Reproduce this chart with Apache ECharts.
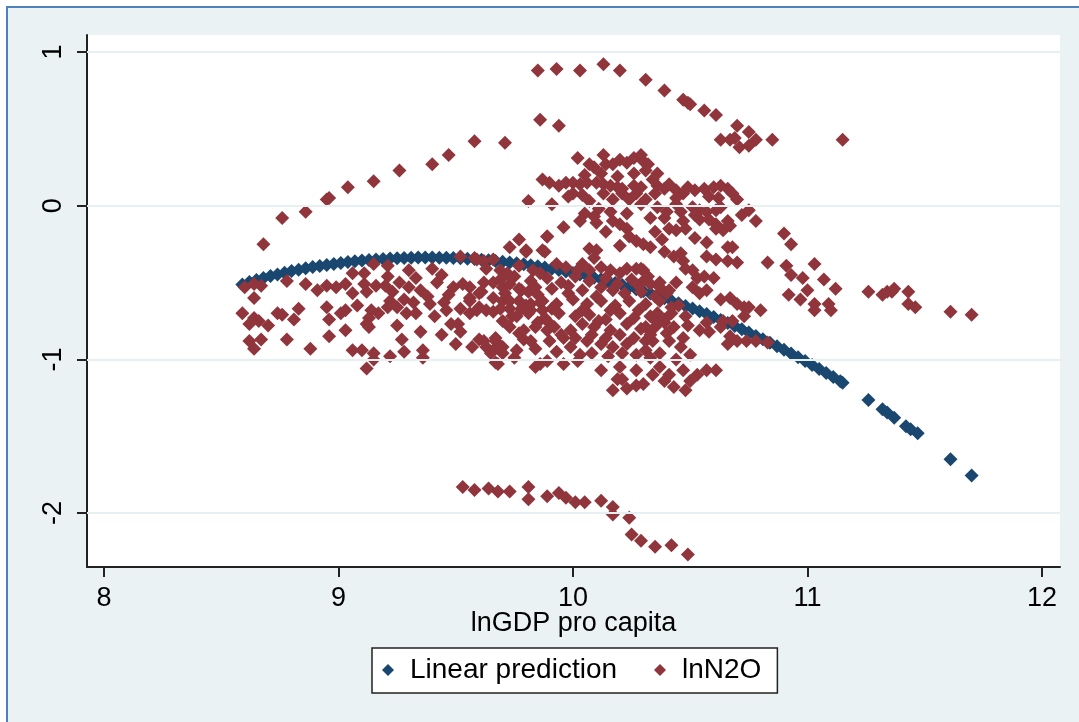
<!DOCTYPE html>
<html>
<head>
<meta charset="utf-8">
<script src="https://cdn.jsdelivr.net/npm/echarts@6/dist/echarts.min.js"></script>
<style>
  html, body { margin: 0; padding: 0; background: #ffffff; width: 1079px; height: 722px; overflow: hidden; }
  #frame { position: absolute; left: 6px; top: 6px; width: 1100px; height: 800px; background: #EAF2F3;
           border-left: 2px solid #4F81BD; border-top: 2px solid #4F81BD; }
  #chart { position: absolute; left: 0; top: 0; width: 1079px; height: 722px; }
</style>
</head>
<body>
<div id="frame"></div>
<div id="chart"></div>
<script>
// Axis tick values
const xTicks = [8, 9, 10, 11, 12];
const yTicks = [-2, -1, 0, 1];

// Fitted values (lnGDP, linear prediction of lnN2O)
const linearPrediction = [
  [8.59,-0.512],[8.62,-0.497],[8.65,-0.484],[8.68,-0.470],[8.71,-0.458],[8.74,-0.447],[8.77,-0.436],
  [8.80,-0.424],[8.83,-0.416],[8.86,-0.407],[8.89,-0.399],[8.92,-0.392],[8.95,-0.385],[8.98,-0.379],
  [9.01,-0.373],[9.04,-0.367],[9.07,-0.362],[9.10,-0.357],[9.13,-0.353],[9.16,-0.350],[9.19,-0.346],
  [9.22,-0.344],[9.25,-0.341],[9.28,-0.340],[9.31,-0.338],[9.34,-0.337],[9.37,-0.337],[9.40,-0.337],
  [9.43,-0.338],[9.46,-0.339],[9.49,-0.340],[9.52,-0.342],[9.55,-0.345],[9.58,-0.347],[9.61,-0.351],
  [9.64,-0.355],[9.67,-0.359],[9.70,-0.364],[9.73,-0.369],[9.76,-0.375],[9.79,-0.381],[9.82,-0.387],
  [9.85,-0.394],[9.88,-0.402],[9.91,-0.410],[9.94,-0.419],[9.97,-0.428],[10.00,-0.437],[10.03,-0.447],
  [10.06,-0.457],[10.09,-0.468],[10.12,-0.479],[10.15,-0.491],[10.18,-0.503],[10.21,-0.516],[10.24,-0.529],
  [10.27,-0.543],[10.30,-0.557],[10.33,-0.572],[10.36,-0.587],[10.39,-0.602],[10.42,-0.618],[10.45,-0.635],
  [10.48,-0.652],[10.51,-0.669],[10.54,-0.687],[10.57,-0.705],[10.60,-0.724],[10.63,-0.743],[10.66,-0.763],
  [10.69,-0.783],[10.72,-0.804],[10.75,-0.825],[10.78,-0.847],[10.81,-0.869],[10.84,-0.891],[10.87,-0.914],
  [10.90,-0.938],[10.93,-0.962],[10.96,-0.986],[10.99,-1.011],[11.02,-1.036],[11.05,-1.062],[11.08,-1.088],
  [11.11,-1.115],[11.14,-1.142],[11.15,-1.152],
  [11.26,-1.265],[11.32,-1.325],[11.34,-1.345],[11.37,-1.380],[11.42,-1.435],[11.44,-1.455],[11.47,-1.480],
  [11.61,-1.650],[11.70,-1.755]
];

// Observed lnN2O, grouped by area of the scatter
const upperArc = [
  [9.85,0.88],[9.93,0.89],[10.03,0.88],[10.13,0.92],[10.20,0.88],[10.31,0.82],[10.39,0.75],[10.47,0.69],
  [10.49,0.67],[10.50,0.66],[10.56,0.62],[10.61,0.59],[10.70,0.52],[10.63,0.43],[10.67,0.43],[10.69,0.44],
  [10.71,0.38],[10.75,0.48],[10.75,0.39],[10.78,0.43],[10.85,0.43],[11.15,0.43],[9.86,0.56],[9.94,0.52],
  [9.71,0.41]
];
const leftArc = [
  [8.68,-0.25],[8.76,-0.08],[8.86,-0.04],[8.95,0.04],[8.96,0.05],[9.04,0.12],[9.15,0.16],[9.26,0.23],
  [9.40,0.27],[9.47,0.33],[9.58,0.42]
];
const lowerGroup = [
  [9.53,-1.83],[9.58,-1.85],[9.64,-1.84],[9.68,-1.86],[9.73,-1.86],[9.81,-1.83],[9.81,-1.91],[9.89,-1.89],
  [9.94,-1.87],[9.97,-1.90],[10.01,-1.93],[10.05,-1.93],[10.12,-1.92],[10.17,-1.96],[10.17,-2.01],[10.24,-2.03],
  [10.25,-2.14],[10.29,-2.18],[10.35,-2.22],[10.42,-2.21],[10.49,-2.27]
];
const eastTail = [
  [10.90,-0.18],[10.93,-0.25],[10.91,-0.39],[10.93,-0.45],[11.03,-0.38],[10.98,-0.47],[11.07,-0.48],[11.00,-0.55],
  [11.12,-0.54],[10.92,-0.58],[10.97,-0.61],[11.03,-0.64],[11.03,-0.68],[11.09,-0.64],[11.10,-0.68],[11.26,-0.56],
  [11.32,-0.58],[11.34,-0.56],[11.36,-0.56],[11.37,-0.54],[11.43,-0.56],[11.43,-0.64],[11.46,-0.66],[11.61,-0.69],
  [11.70,-0.71],[10.83,-0.37],[10.78,-0.10],[10.75,-0.03]
];
const westCloud = [
  [8.60,-0.53],[8.64,-0.51],[8.67,-0.52],[8.64,-0.60],[8.78,-0.49],[8.86,-0.51],[8.91,-0.55],[8.95,-0.52],
  [8.99,-0.53],[9.03,-0.51],[9.06,-0.44],[9.11,-0.44],[9.15,-0.38],[9.21,-0.39],[9.21,-0.46],[9.30,-0.42],
  [9.40,-0.41],[9.11,-0.51],[9.12,-0.56],[9.16,-0.52],[9.23,-0.56],[9.22,-0.62],[9.21,-0.66],[9.17,-0.70],
  [9.14,-0.68],[9.13,-0.73],[9.26,-0.50],[9.30,-0.53],[9.28,-0.61],[9.25,-0.66],[9.29,-0.70],[9.33,-0.70],
  [9.35,-0.55],[9.38,-0.59],[9.39,-0.64],[9.42,-0.50],[9.45,-0.63],[9.46,-0.68],[9.49,-0.53],[9.53,-0.51],
  [9.56,-0.53],[9.60,-0.57],[9.52,-0.33],[9.58,-0.34],[9.52,-0.67],[9.56,-0.70],[9.60,-0.66],[9.56,-0.60],
  [9.48,-0.77],[9.51,-0.77],[9.52,-0.82],[9.50,-0.90],[9.57,-0.92],[8.59,-0.70],[8.64,-0.73],[8.62,-0.77],
  [8.66,-0.75],[8.70,-0.78],[8.74,-0.70],[8.76,-0.71],[8.83,-0.67],[8.81,-0.74],[8.95,-0.66],[9.01,-0.70],
  [9.03,-0.68],[8.96,-0.74],[9.03,-0.81],[9.12,-0.77],[9.13,-0.79],[9.25,-0.78],[9.35,-0.82],[8.62,-0.88],
  [8.64,-0.93],[8.67,-0.87],[8.78,-0.87],[8.88,-0.93],[8.96,-0.85],[9.06,-0.94],[9.10,-0.94],[9.15,-0.96],
  [9.15,-1.00],[9.12,-1.06],[9.22,-0.98],[9.28,-0.95],[9.36,-0.94],[9.36,-0.99],
  [9.33,-0.47],[9.44,-0.45],[9.47,-0.58],[9.41,-0.72],[9.20,-0.52],[9.06,-0.57],[9.08,-0.65],[9.27,-0.87],
  [9.44,-0.84],[9.32,-0.63]
];
const centralCloud = [
  [9.73,-0.27],[9.77,-0.22],[9.80,-0.30],[9.88,-0.30],[9.89,-0.20],[9.59,-0.35],[9.62,-0.36],[9.66,-0.35],
  [9.63,-0.41],[9.69,-0.42],[9.72,-0.44],[9.77,-0.39],[9.83,-0.42],[9.86,-0.44],[9.66,-0.50],[9.70,-0.53],
  [9.73,-0.51],[9.77,-0.54],[9.81,-0.56],[9.84,-0.53],[9.61,-0.56],[9.66,-0.60],[9.70,-0.62],[9.77,-0.62],
  [9.82,-0.64],[9.86,-0.63],[9.56,-0.62],[9.59,-0.68],[9.63,-0.68],[9.66,-0.69],[9.69,-0.67],[9.73,-0.67],
  [9.76,-0.72],[9.82,-0.68],[9.87,-0.68],[9.73,-0.79],[9.77,-0.83],[9.79,-0.87],[9.84,-0.79],[9.89,-0.81],
  [9.60,-0.87],[9.63,-0.92],[9.67,-0.88],[9.70,-0.92],[9.66,-0.94],[9.70,-0.96],[9.67,-1.02],[9.75,-0.99],
  [9.86,-1.03]
];
const upperCloud = [
  [10.02,0.31],[10.07,0.27],[10.09,0.25],[10.13,0.33],[10.14,0.27],[10.17,0.27],[10.20,0.30],[10.23,0.28],
  [10.26,0.31],[10.29,0.33],[10.30,0.29],[10.32,0.27],[9.87,0.17],[9.90,0.15],[9.94,0.13],[9.97,0.15],
  [10.00,0.15],[10.03,0.14],[10.06,0.15],[10.10,0.15],[10.13,0.14],[10.16,0.13],[10.19,0.12],[10.21,0.11],
  [10.26,0.13],[10.29,0.12],[10.00,0.08],[10.04,0.07],[10.07,0.03],[10.13,0.08],[10.17,0.04],[10.21,0.08],
  [10.24,0.04],[10.27,0.08],[10.29,0.01],[10.31,0.04],[9.81,0.03],[9.91,0.01],[10.11,-0.02],[10.09,-0.07],
  [10.10,-0.11],[10.03,-0.10],[9.96,-0.14],[10.17,-0.10],[10.20,-0.12],[10.23,-0.15],[10.24,-0.20],[10.27,-0.23],
  [10.30,-0.25],[9.89,-0.20],[9.80,-0.29],[9.87,-0.29],[10.07,-0.28],[10.10,-0.29],[10.09,-0.34],
  [10.31,0.23],[10.36,0.21],[10.36,0.13],[10.39,0.11],[10.44,0.10],[10.47,0.08],[10.52,0.10],[10.56,0.11],
  [10.60,0.12],[10.63,0.13],[10.66,0.11],[10.70,0.04],[10.44,0.01],[10.51,-0.01],[10.54,-0.03],[10.57,-0.04],
  [10.61,-0.03],[10.63,-0.01],[10.66,-0.10],[10.61,-0.12],[10.58,-0.09],[10.54,-0.09],[10.36,-0.01],[10.33,-0.08],
  [10.39,-0.08],[10.47,-0.10],[10.41,-0.15],[10.44,-0.16],[10.35,-0.17],[10.48,-0.15],[10.61,-0.15],[10.64,-0.16],
  [10.67,-0.13],[10.68,-0.27],[10.66,-0.27],[10.33,-0.27],[10.39,-0.30],[10.43,-0.33],[10.46,-0.31],[10.47,-0.36],
  [10.57,-0.33],[10.61,-0.35],[10.66,-0.36],[10.70,-0.37],
  [10.05,0.20],[10.12,0.21],[10.19,0.19],[10.26,0.21],[10.34,0.17],[10.41,0.14],[10.49,0.12],[10.58,0.06],
  [10.62,0.05],[10.68,0.08],[10.72,-0.06],[10.52,-0.06],[10.40,-0.04],[10.46,-0.04],[10.23,-0.05],[10.16,-0.04],
  [10.05,-0.05],[9.98,0.06],[10.35,0.08],[10.44,0.05],[10.52,-0.21],[10.57,-0.24],[10.38,-0.22],[10.20,-0.26],
  [10.14,-0.17]
];
const coreCloud = [
  [9.93,-0.38],[9.97,-0.40],[10.02,-0.42],[10.04,-0.38],[10.07,-0.42],[10.12,-0.40],[10.16,-0.42],[10.20,-0.44],
  [10.23,-0.41],[10.27,-0.41],[10.30,-0.42],[9.79,-0.81],[9.82,-0.88],[9.89,-0.75],[9.90,-0.88],[9.96,-0.86],
  [9.99,-0.92],[10.03,-0.97],[10.06,-0.88],[10.12,-0.90],[10.17,-0.92],[10.23,-0.90],[10.27,-0.97],[10.31,-0.88],
  [9.62,-0.88],[9.67,-0.86],[9.65,-0.96],[9.68,-1.03],[9.84,-1.05],[9.89,-1.01],[9.96,-1.03],[10.02,-1.01],
  [10.12,-1.07],[10.20,-1.05],[10.27,-1.07],[10.19,-1.13],[10.21,-1.13],[10.17,-1.20],[10.23,-1.19],[10.27,-1.17],
  [10.30,-1.16],[10.48,-0.41],[10.51,-0.42],[10.53,-0.47],[10.56,-0.46],[10.60,-0.47],[10.29,-0.41],[10.30,-0.49],
  [10.33,-0.51],[10.37,-0.53],[10.40,-0.57],[10.51,-0.53],[10.54,-0.57],[10.57,-0.55],[10.63,-0.61],[10.67,-0.60],
  [10.70,-0.64],[10.73,-0.66],[10.75,-0.66],[10.80,-0.68],[10.73,-0.72],[10.68,-0.75],[10.64,-0.75],[10.54,-0.81],
  [10.58,-0.82],[10.63,-0.79],[10.67,-0.85],[10.66,-0.90],[10.70,-0.88],[10.74,-0.88],[10.78,-0.88],[10.83,-0.89],
  [10.36,-0.70],[10.39,-0.76],[10.31,-0.79],[10.43,-0.79],[10.47,-0.86],[10.41,-0.88],[10.34,-0.88],[10.31,-0.94],
  [10.37,-0.96],[10.46,-0.92],[10.50,-0.97],[10.37,-1.05],[10.41,-1.10],[10.47,-1.07],[10.50,-1.14],[10.53,-1.10],
  [10.57,-1.07],[10.61,-1.07],[10.43,-1.18],[10.39,-1.14],[10.34,-1.10],[10.48,-1.20],[10.45,-0.65],[10.42,-0.70],
  [9.69,-0.48],[9.75,-0.46],[9.82,-0.49],[9.89,-0.47],[9.95,-0.50],[10.01,-0.46],[10.07,-0.49],[10.14,-0.47],
  [10.19,-0.51],[10.25,-0.48],[10.32,-0.46],[10.37,-0.50],[9.71,-0.57],[9.78,-0.55],[9.85,-0.58],[9.91,-0.54],
  [9.98,-0.57],[10.04,-0.55],[10.10,-0.59],[10.17,-0.55],[10.22,-0.57],[10.29,-0.56],[10.35,-0.59],[10.41,-0.55],
  [9.73,-0.62],[9.80,-0.65],[9.87,-0.62],[9.93,-0.64],[10.00,-0.61],[10.06,-0.64],[10.12,-0.62],[10.18,-0.65],
  [10.24,-0.62],[10.31,-0.64],[10.37,-0.62],[9.74,-0.72],[9.81,-0.70],[9.88,-0.73],[9.94,-0.70],[10.01,-0.72],
  [10.07,-0.71],[10.14,-0.74],[10.20,-0.70],[10.26,-0.73],[10.33,-0.72],[10.39,-0.74],[9.92,-0.79],[9.99,-0.81],
  [10.09,-0.79],[10.16,-0.81],[10.29,-0.80],[10.35,-0.79],
  [9.95,-0.84],[10.01,-0.86],[10.08,-0.84],[10.14,-0.86],[10.20,-0.84],[10.26,-0.86],[10.33,-0.84],[10.40,-0.83],
  [9.76,-0.94],[9.84,-0.93],[9.93,-0.95],[10.08,-0.96],[10.15,-0.98],[10.21,-0.96],[10.33,-0.99],[10.44,-1.00],
  [9.62,-0.50],[9.98,-0.52],[10.12,-0.53],[10.28,-0.52],[10.44,-0.50],[9.78,-0.67],[9.91,-0.67],[10.04,-0.68],
  [10.16,-0.68],[10.28,-0.68],[10.42,-0.66],[10.48,-0.72],[9.70,-0.75],[9.85,-0.76],[10.04,-0.77],[10.11,-0.75],
  [10.23,-0.77],[10.36,-0.76],[10.49,-0.78],[10.57,-0.76]
];
const lnN2O = [].concat(upperArc, leftArc, lowerGroup, eastTail, westCloud, centralCloud, upperCloud, coreCloud);

const FONT = '"Liberation Sans", Arial, sans-serif';
const INK = '#000000';

const chart = echarts.init(document.getElementById('chart'), null, { renderer: 'canvas' });
chart.setOption({
  animation: false,
  backgroundColor: 'transparent',
  textStyle: { fontFamily: FONT },
  grid: {
    left: 87, right: 19, top: 35, bottom: 155,
    show: true, backgroundColor: '#ffffff', borderWidth: 0
  },
  legend: {
    data: ['Linear prediction', 'lnN2O'],
    left: 372, top: 648,
    icon: 'diamond',
    itemWidth: 12, itemHeight: 12,
    itemGap: 37,
    padding: [8, 16, 9, 10],
    backgroundColor: '#ffffff',
    borderColor: '#222222', borderWidth: 1.5,
    textStyle: { fontSize: 28, color: INK, fontFamily: FONT, padding: [0, 0, 0, 11] }
  },
  xAxis: {
    type: 'value',
    min: 7.9275, max: 12.077,
    name: 'lnGDP pro capita',
    nameLocation: 'middle',
    nameGap: 43,
    nameMoveOverlap: false,
    nameTextStyle: { fontSize: 27, color: INK, fontFamily: FONT },
    axisLine: { show: true, onZero: false, lineStyle: { color: '#222222', width: 2 } },
    axisTick: { show: true, length: 10, customValues: xTicks, lineStyle: { color: '#222222', width: 2 } },
    axisLabel: { customValues: xTicks, fontSize: 27, color: INK, fontFamily: FONT, margin: 18 },
    splitLine: { show: false }
  },
  yAxis: {
    type: 'value',
    min: -2.351, max: 1.111,
    axisLine: { show: true, onZero: false, lineStyle: { color: '#222222', width: 2 } },
    axisTick: { show: true, length: 10, customValues: yTicks, lineStyle: { color: '#222222', width: 2 } },
    axisLabel: { customValues: yTicks, rotate: 90, fontSize: 27, color: INK, fontFamily: FONT, margin: 20 },
    splitLine: { show: false }
  },
  series: [
    {
      // horizontal grid lines at the labelled y values
      type: 'scatter',
      data: [],
      z: 1,
      silent: true,
      markLine: {
        silent: true,
        symbol: ['none', 'none'],
        label: { show: false },
        lineStyle: { color: '#E6EFF1', width: 2, type: 'solid' },
        data: yTicks.map(v => ({ yAxis: v }))
      }
    },
    {
      name: 'Linear prediction',
      type: 'scatter',
      symbol: 'diamond',
      symbolSize: 14,
      z: 2,
      itemStyle: { color: '#1A476F', opacity: 1 },
      data: linearPrediction
    },
    {
      name: 'lnN2O',
      type: 'scatter',
      symbol: 'diamond',
      symbolSize: 14,
      z: 3,
      itemStyle: { color: '#90353B', opacity: 1 },
      data: lnN2O
    }
  ]
});
</script>
</body>
</html>
